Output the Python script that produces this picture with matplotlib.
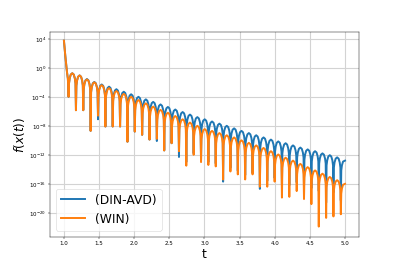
import numpy as np
import matplotlib.pyplot as plt

# times of the dips (both runs oscillate in step)
dip_t = [1.066, 1.171, 1.275, 1.380, 1.485, 1.590, 1.694, 1.799, 1.904, 2.008,
         2.113, 2.218, 2.322, 2.427, 2.532, 2.637, 2.741, 2.846, 2.951, 3.055,
         3.160, 3.265, 3.369, 3.474, 3.579, 3.684, 3.788, 3.893, 3.998, 4.102,
         4.207, 4.312, 4.416, 4.521, 4.626, 4.731, 4.835, 4.940]

# log10 f at the dips
din_dip = [-4.0, -5.85, -5.85, -8.7, -7.1, -8.1, -8.1, -8.1, -10.2, -8.8,
           -9.25, -9.9, -10.1, -11.4, -10.4, -12.3, -13.0, -11.8, -12.6, -13.0,
           -13.2, -15.7, -13.8, -14.2, -14.8, -14.5, -16.7, -15.6, -15.2, -16.0,
           -16.2, -15.8, -16.5, -16.6, -17.0, -18.6, -17.2, -18.3]
win_dip = [-4.0, -5.85, -5.85, -8.7, -6.6, -8.1, -8.1, -8.1, -10.2, -8.8,
           -9.25, -9.9, -9.8, -11.4, -10.4, -11.5, -13.5, -12.0, -13.0, -13.4,
           -13.6, -15.4, -14.3, -14.7, -15.4, -14.7, -16.4, -16.4, -15.7, -17.9,
           -17.8, -17.0, -18.1, -18.8, -21.9, -20.7, -20.5, -20.2]

# log10 f at the top of each arch between two dips
din_peak = [-0.75, -1.05, -1.55, -1.95, -2.3, -2.6, -2.95, -3.3, -3.65, -4.0,
            -4.35, -4.7, -5.05, -5.4, -5.75, -6.1, -6.45, -6.8, -7.1, -7.4,
            -7.7, -8.0, -8.35, -8.7, -9.0, -9.3, -9.6, -9.9, -10.15, -10.4,
            -10.7, -11.0, -11.25, -11.5, -11.8, -12.05, -12.35]
win_peak = [-0.75, -1.05, -1.6, -2.0, -2.4, -2.8, -3.2, -3.6, -4.0, -4.45,
            -4.9, -5.35, -5.8, -6.2, -6.65, -7.1, -7.55, -8.0, -8.45, -8.7,
            -9.0, -9.3, -9.6, -10.0, -10.35, -10.7, -11.05, -11.5, -11.95, -12.4,
            -12.8, -13.25, -13.7, -14.15, -14.6, -15.05, -15.5]

# first drop from the starting value, and the value at t = 5
start_t = [1.0, 1.02, 1.043, 1.056]
start_v = [3.75, 1.6, -0.55, -1.5]
end_t = 5.0
din_end = -12.8
win_end = -16.0

# shape of one arch: position inside the period, drop below the top (decades)
arch_frac = [0.06, 0.15, 0.3, 0.5, 0.7, 0.85, 0.94]
arch_drop = [1.4, 0.7, 0.18, 0.0, 0.18, 0.7, 1.4]


def build(dips, peaks, end_v):
    tt = list(start_t)
    vv = list(start_v)
    for k in range(len(dip_t)):
        tt.append(dip_t[k])
        vv.append(dips[k])
        if k < len(peaks):
            w = dip_t[k + 1] - dip_t[k]
            for f, d in zip(arch_frac, arch_drop):
                tt.append(dip_t[k] + f * w)
                vv.append(peaks[k] - d)
    # last, unfinished arch
    w = dip_t[1] - dip_t[0]
    for f, d in zip(arch_frac[:3], arch_drop[:3]):
        tt.append(dip_t[-1] + f * w)
        vv.append(end_v + 0.05 - d)
    tt.append(end_t)
    vv.append(end_v)
    return np.array(tt), 10.0 ** np.array(vv)


t_din, f_din = build(din_dip, din_peak, din_end)
t_win, f_win = build(win_dip, win_peak, win_end)

fig = plt.figure(figsize=(9.975, 6.65), dpi=40)
ax = plt.gca()
plt.semilogy(t_din, f_din, c='#1f77b4', lw=3.5, label='(DIN-AVD)')
plt.semilogy(t_win, f_win, c='#ff7f0e', lw=3.5, label='(WIN)')

plt.xlim(0.8, 5.2)
plt.ylim(10 ** -23.3, 10 ** 4.95)
plt.yticks([10.0 ** p for p in [4, 0, -4, -8, -12, -16, -20]])
ax.yaxis.set_minor_locator(plt.NullLocator())
plt.xticks([1.0, 1.5, 2.0, 2.5, 3.0, 3.5, 4.0, 4.5, 5.0])
plt.grid(True, color='#d3d3d3', lw=2)
ax.set_axisbelow(True)

plt.xlabel('t', fontsize=22)
plt.ylabel('$f(x(t))$', fontsize=22)
plt.legend(loc='lower left', fontsize=22)

plt.savefig('out.png', dpi=40)
